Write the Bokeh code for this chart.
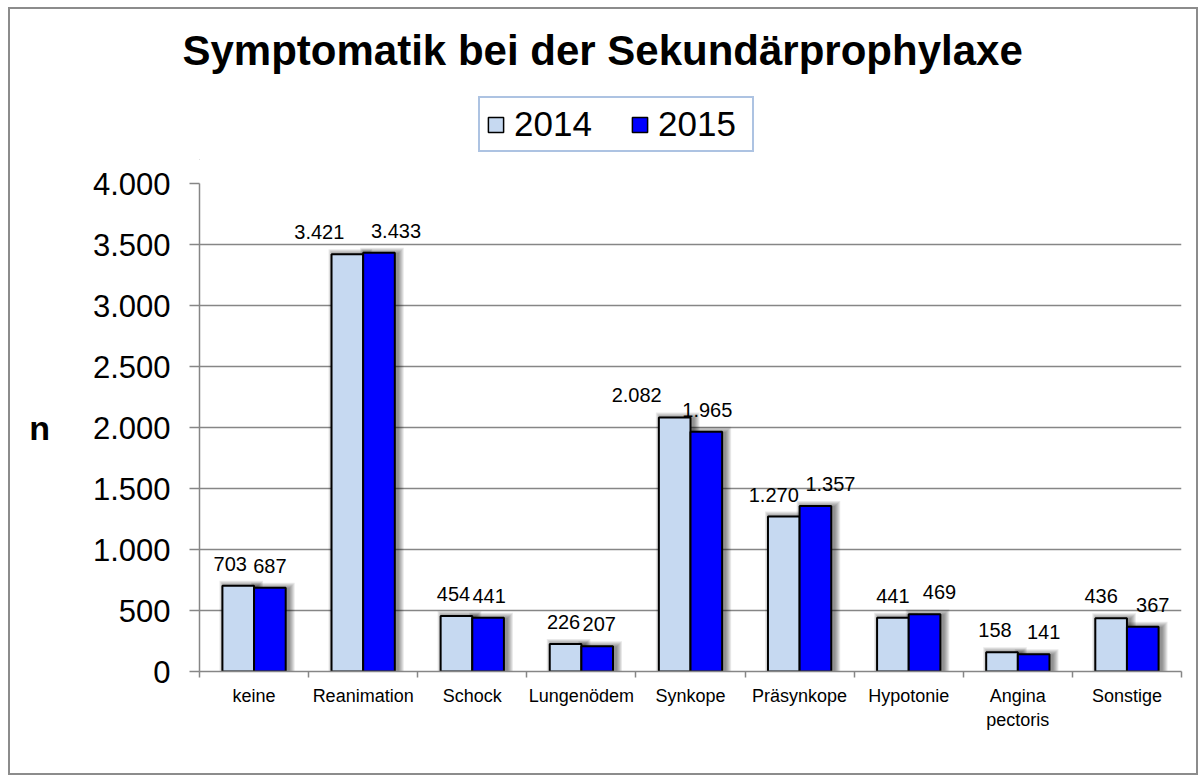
import numpy as np
from bokeh.plotting import figure
from bokeh.layouts import column
from bokeh.models import (FixedTicker, ColumnDataSource, LabelSet, Legend, LegendItem)
from bokeh.core.properties import value
from bokeh.embed import file_html
from bokeh.resources import INLINE

# ---------------- data ----------------
title_text = "Symptomatik bei der Sekundärprophylaxe"
categories = ["keine", "Reanimation", "Schock", "Lungenödem", "Synkope",
              "Präsynkope", "Hypotonie", "Angina\npectoris", "Sonstige"]
values_2014 = [703, 3421, 454, 226, 2082, 1270, 441, 158, 436]
values_2015 = [687, 3433, 441, 207, 1965, 1357, 469, 141, 367]
y_ticks = [0, 500, 1000, 1500, 2000, 2500, 3000, 3500, 4000]
y_tick_labels = ["0", "500", "1.000", "1.500", "2.000", "2.500", "3.000", "3.500", "4.000"]
series_names = ["2014", "2015"]

# label nudges (pixels) imitating the original label placement
label_dx_2014 = [-8, -28, -3, -2, -38, -10, 0, -7, -10]
label_dx_2015 = [0, 17, 1, 2, 1, 15, 15, 10, 10]


def de_fmt(v):
    return f"{v:,}".replace(",", ".")


FONT = "Liberation Sans"
GRAY = "#868686"
C14 = "#C6D9F1"
C15 = "#0000FF"

n = len(categories)
xc = np.arange(n) + 0.5
bar_w = 0.29
x14 = xc - bar_w / 2
x15 = xc + bar_w / 2

# layout (pixels)
W = 1186
H_TOP = 151
H_BOT = 613
MB_L, MB_R, MB_T, MB_B = 189, 15, 23, 102
frame_w = W - MB_L - MB_R
frame_h = H_BOT - MB_T - MB_B
y_max = y_ticks[-1]
px_x = n / frame_w
px_y = y_max / frame_h

# ---------------- header (title + legend) ----------------
top = figure(width=W, height=H_TOP, x_range=(0, 1), y_range=(0, 1),
             output_backend="svg", toolbar_location=None,
             x_axis_location=None, y_axis_location=None,
             min_border_left=MB_L, min_border_right=MB_R,
             min_border_top=69, min_border_bottom=0)
top.outline_line_color = None
top.xgrid.visible = False
top.ygrid.visible = False
top.background_fill_color = "white"
top.border_fill_color = "white"

top.title.text = title_text
top.title.align = "left"
top.title.offset = -17
top.title.text_font = FONT
top.title.text_font_size = "42px"
top.title.text_font_style = "bold"
top.title.text_color = "black"

# legend proxies, parked outside the visible header range
proxy = ColumnDataSource(dict(x=[-5], top=[0]))
h14 = top.vbar(x="x", top="top", width=0.1, source=proxy,
               fill_color=C14, line_color="black", line_width=1.5)
h15 = top.vbar(x="x", top="top", width=0.1, source=proxy,
               fill_color=C15, line_color="black", line_width=1.5)

legend = Legend(items=[LegendItem(label=series_names[0], renderers=[h14]),
                       LegendItem(label=series_names[1], renderers=[h15])],
                orientation="horizontal", location=(279, 8),
                label_text_font=FONT, label_text_font_size="35px",
                label_text_color="black",
                glyph_width=19, glyph_height=19, label_standoff=9, spacing=28,
                padding=6, label_width=88,
                border_line_color="#5B87C5", border_line_width=2,
                background_fill_color="white", background_fill_alpha=1)
top.add_layout(legend)

# ---------------- chart ----------------
p = figure(width=W, height=H_BOT, x_range=(0, n), y_range=(0, y_max),
           output_backend="svg", toolbar_location=None,
           min_border_left=MB_L, min_border_right=MB_R,
           min_border_top=MB_T, min_border_bottom=MB_B)
p.outline_line_color = None
p.background_fill_color = "white"
p.border_fill_color = "white"

p.xgrid.visible = False
p.ygrid.grid_line_color = GRAY
p.ygrid.grid_line_width = 1.5

p.yaxis.ticker = FixedTicker(ticks=y_ticks)
p.yaxis.major_label_overrides = {t: l for t, l in zip(y_ticks, y_tick_labels)}
p.yaxis.major_label_text_font = FONT
p.yaxis.major_label_text_font_size = "31px"
p.yaxis.major_label_text_color = "black"
p.yaxis.major_label_standoff = 19
p.yaxis.major_tick_out = 10
p.yaxis.major_tick_in = 0
p.yaxis.minor_tick_out = 0
p.yaxis.minor_tick_in = 0
p.yaxis.major_tick_line_color = GRAY
p.yaxis.major_tick_line_width = 1.5
p.yaxis.axis_line_color = GRAY
p.yaxis.axis_line_width = 1.5
p.yaxis.axis_label = "n"
p.yaxis.axis_label_orientation = "horizontal"
p.yaxis.axis_label_text_font = FONT
p.yaxis.axis_label_text_font_size = "34px"
p.yaxis.axis_label_text_font_style = "bold"
p.yaxis.axis_label_text_color = "black"
p.yaxis.axis_label_standoff = 40

p.xaxis.ticker = FixedTicker(ticks=list(xc), minor_ticks=list(range(n + 1)))
p.xaxis.major_label_overrides = {float(x): c for x, c in zip(xc, categories)}
p.xaxis.major_label_text_font = FONT
p.xaxis.major_label_text_font_size = "18px"
p.xaxis.major_label_text_color = "black"
p.xaxis.major_label_standoff = 8
p.xaxis.major_tick_out = 0
p.xaxis.major_tick_in = 0
p.xaxis.minor_tick_out = 6
p.xaxis.minor_tick_in = 0
p.xaxis.minor_tick_line_color = GRAY
p.xaxis.minor_tick_line_width = 1.5
p.xaxis.axis_line_color = GRAY
p.xaxis.axis_line_width = 1.5

# soft shadows
v14 = np.array(values_2014, dtype=float)
v15 = np.array(values_2015, dtype=float)
for k in range(1, 7):
    for xs, vs in ((x14, v14), (x15, v15)):
        p.vbar(x=xs + 3 * px_x, width=bar_w + 2 * k * px_x, top=vs + (k - 1) * px_y,
               bottom=0, fill_color="black", fill_alpha=0.085, line_color=None)

src = ColumnDataSource(dict(
    x14=x14, x15=x15, v14=values_2014, v15=values_2015,
    t14=[de_fmt(v) for v in values_2014], t15=[de_fmt(v) for v in values_2015],
    lx14=x14 + np.array(label_dx_2014) * px_x, lx15=x15 + np.array(label_dx_2015) * px_x,
))

p.vbar(x="x14", top="v14", width=bar_w, bottom=0, source=src,
       fill_color=C14, line_color="black", line_width=2)
p.vbar(x="x15", top="v15", width=bar_w, bottom=0, source=src,
       fill_color=C15, line_color="black", line_width=2)

for lx, v, t in (("lx14", "v14", "t14"), ("lx15", "v15", "t15")):
    p.add_layout(LabelSet(x=lx, y=v, text=t, source=src, y_offset=15,
                          text_align="center", text_baseline="alphabetic",
                          text_font=value(FONT), text_font_size=value("20px"),
                          text_color="black"))

page = column(top, p, spacing=0,
              styles={"border": "2px solid #8c8c8c", "margin-left": "8px",
                      "margin-top": "7px", "background": "white"})

open("out.html", "w").write(file_html(page, INLINE))
